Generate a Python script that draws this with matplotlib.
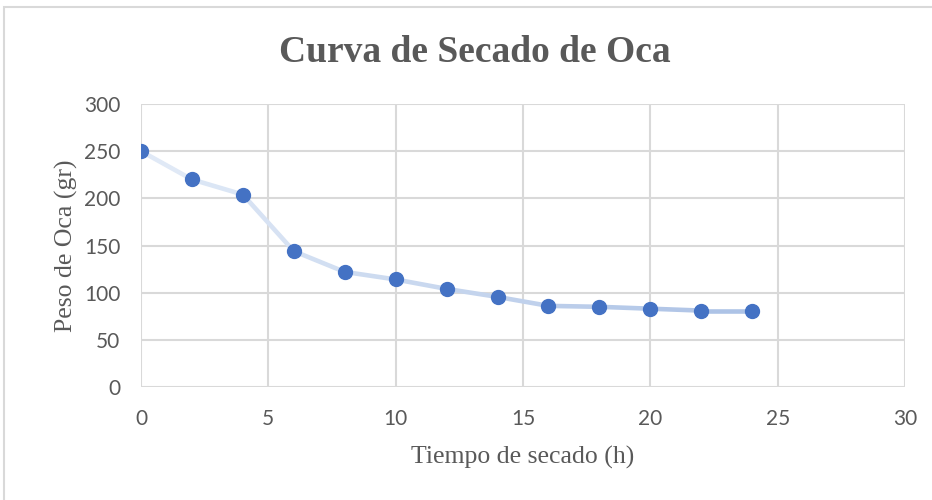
import numpy as np
import matplotlib.pyplot as plt
from matplotlib.collections import LineCollection
from matplotlib.colors import LinearSegmentedColormap
from matplotlib.patches import Rectangle

# data
tiempo = [0, 2, 4, 6, 8, 10, 12, 14, 16, 18, 20, 22, 24]
peso = [250, 220, 204, 144, 122, 114, 104, 95.5, 86, 85, 83, 81, 81]

titulo = "Curva de Secado de Oca"
xlabel = "Tiempo de secado (h)"
ylabel = "Peso de Oca (gr)"

GRID = "#d9d9d9"
TXT = "#595959"
MARK = "#4472c4"

fig = plt.figure(figsize=(9.32, 5.0), dpi=100)
ax = fig.add_axes([0.1513, 0.226, 0.8197, 0.566])

# faded line, lighter at the start like the excel gradient
pts = np.column_stack([tiempo, peso])
segs = np.stack([pts[:-1], pts[1:]], axis=1)
cmap = LinearSegmentedColormap.from_list("fade", ["#e0e9f6", "#adc3e6"])
lc = LineCollection(segs, colors=cmap(np.linspace(0, 1, len(segs))),
                    linewidths=3.3, capstyle="round", joinstyle="round", zorder=2)
ax.add_collection(lc)
ax.plot(tiempo, peso, "o", color=MARK, markersize=10, zorder=3)

ax.set_xlim(0, 30)
ax.set_ylim(0, 300)
ax.set_xticks(range(0, 31, 5))
ax.set_yticks(range(0, 301, 50))
ax.grid(True, color=GRID, linewidth=1.5)
ax.set_axisbelow(True)
for s in ax.spines.values():
    s.set_visible(False)
ax.tick_params(length=0, labelsize=15, labelcolor=TXT)
ax.tick_params(axis="x", pad=16)
ax.tick_params(axis="y", pad=15)
for lab in ax.get_xticklabels() + ax.get_yticklabels():
    lab.set_family("Lato")

ax.set_xlabel(xlabel, family="Liberation Serif", fontsize=18.5, color=TXT, labelpad=12)
ax.set_ylabel(ylabel, family="Liberation Serif", fontsize=18.5, color=TXT, labelpad=4)

fig.text(0.509, 0.896, titulo, ha="center", va="center", family="Liberation Serif",
         fontweight="bold", fontsize=27, color=TXT)

# chart frame
fig.patches.append(Rectangle((4 / 932, -0.1), 1.2, 1.1 - 7 / 500, transform=fig.transFigure,
                             fill=False, edgecolor=GRID, linewidth=1.5))

fig.savefig("out.png", dpi=100, facecolor="white")
